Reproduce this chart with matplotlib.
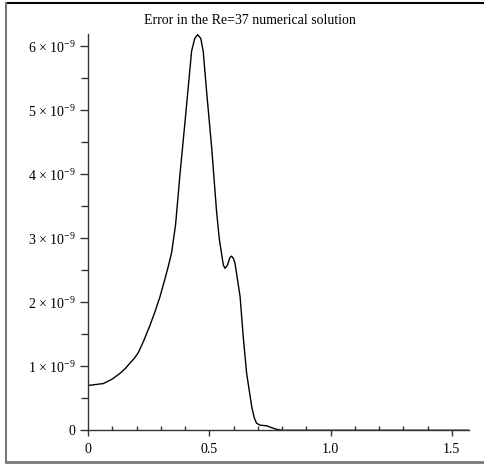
import numpy as np
import matplotlib
matplotlib.use("Agg")
import matplotlib.pyplot as plt
from matplotlib.lines import Line2D
from matplotlib.ticker import FixedLocator, MultipleLocator

plt.rcParams['font.family'] = ['Liberation Serif', 'DejaVu Serif']
plt.rcParams['mathtext.fontset'] = 'custom'
plt.rcParams['mathtext.rm'] = 'Liberation Serif'
plt.rcParams['mathtext.it'] = 'Liberation Serif:italic'
plt.rcParams['mathtext.default'] = 'rm'

title = "Error in the Re=37 numerical solution"

x_vals = [0.0, 0.063, 0.10, 0.132, 0.155, 0.173, 0.190, 0.207, 0.23, 0.256,
          0.277, 0.297, 0.314, 0.331, 0.345,
          0.361, 0.379, 0.40, 0.418, 0.427, 0.440, 0.452, 0.465, 0.475, 0.489,
          0.51, 0.53, 0.541, 0.551, 0.558, 0.565, 0.575, 0.585, 0.592, 0.600,
          0.606, 0.627, 0.64, 0.654, 0.675, 0.685, 0.695, 0.71, 0.736, 0.758,
          0.778, 0.80, 1.5708]
err_e9 = [0.70, 0.73, 0.80, 0.89, 0.97, 1.05, 1.12, 1.21, 1.40, 1.645,
          1.86, 2.09, 2.32, 2.56, 2.78,
          3.21, 3.99, 4.82, 5.55, 5.92, 6.12, 6.18, 6.12, 5.92, 5.29,
          4.41, 3.42, 3.0, 2.75, 2.58, 2.53, 2.58, 2.70, 2.72, 2.68,
          2.61, 2.09, 1.46, 0.89, 0.37, 0.20, 0.11, 0.08, 0.07, 0.04,
          0.015, 0.0, 0.0]

x_ticks = [0.0, 0.5, 1.0, 1.5]
x_tick_labels = ["0", "0.5", "1.0", "1.5"]
y_ticks_e9 = [0, 1, 2, 3, 4, 5, 6]
y_tick_labels = ["0"] + ["%d × 10$^{-9}$" % k for k in y_ticks_e9[1:]]

fig = plt.figure(figsize=(4.84, 4.65), dpi=100)
ax = fig.add_axes([88/484, (465-430.3)/465, (469-88)/484, (430.3-34)/465])

x = np.array(x_vals)
y = np.array(err_e9) * 1e-9
ax.plot(x, y, color='black', lw=1.0)

ax.set_xlim(0, np.pi/2)
ax.set_ylim(0, 6.19e-9)

for s in ['top', 'right']:
    ax.spines[s].set_visible(False)
for s in ['left', 'bottom']:
    ax.spines[s].set_color('#333333')
    ax.spines[s].set_linewidth(1.0)

ax.xaxis.set_major_locator(FixedLocator(x_ticks))
ax.set_xticklabels(x_tick_labels)
ax.xaxis.set_minor_locator(MultipleLocator(0.1))
ax.yaxis.set_major_locator(FixedLocator([v*1e-9 for v in y_ticks_e9]))
ax.set_yticklabels(y_tick_labels)
ax.yaxis.set_minor_locator(MultipleLocator(0.5e-9))

ax.tick_params(axis='x', which='major', direction='out', length=4, width=1,
               color='#333333', labelsize=10, pad=5)
ax.tick_params(axis='x', which='minor', direction='in', length=3, width=1,
               color='#333333')
ax.tick_params(axis='y', which='major', direction='out', length=6, width=1,
               color='#333333', labelsize=10, pad=3)
ax.tick_params(axis='y', which='minor', direction='out', length=5, width=1,
               color='#333333')

fig.text(250/484, 1 - 21/465, title, ha='center', va='center', fontsize=10)

# frame
fig.add_artist(Line2D([5.5/484, 1.0], [1 - 3.5/465, 1 - 3.5/465], color='black', lw=1.5))
fig.add_artist(Line2D([5.5/484, 5.5/484], [1 - 3.5/465, 1 - 462/465], color='#777777', lw=1.5))
fig.add_artist(Line2D([5.5/484, 1.0], [1 - 462/465, 1 - 462/465], color='#777777', lw=2))

fig.savefig("out.png", dpi=100)
